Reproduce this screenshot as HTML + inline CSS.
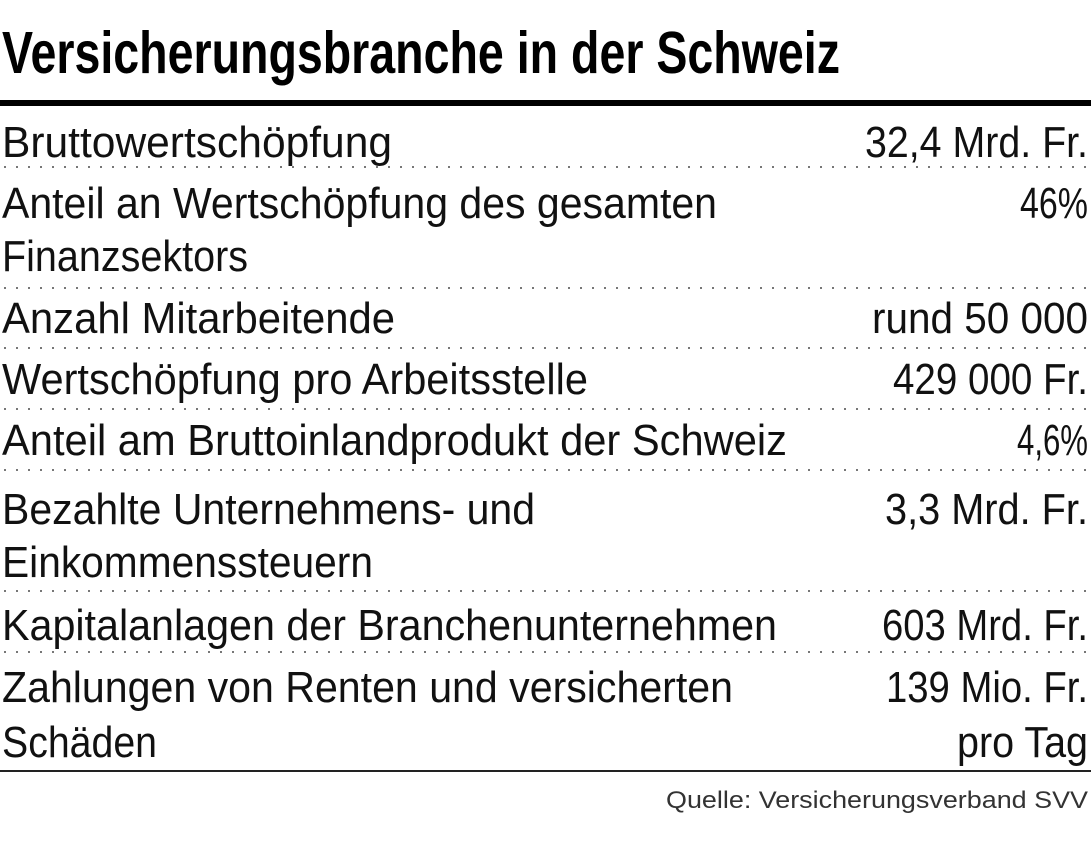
<!DOCTYPE html>
<html><head><meta charset="utf-8"><style>
html,body{margin:0;padding:0;background:#fff;}
svg{display:block;font-family:"Liberation Sans",sans-serif;}
.t{font-size:44px;fill:#111;}
</style></head><body>
<svg width="1091" height="846" viewBox="0 0 1091 846">
<text x="2" y="73" font-size="59" font-weight="bold" fill="#000" textLength="838" lengthAdjust="spacingAndGlyphs">Versicherungsbranche in der Schweiz</text>
<rect x="0" y="100" width="1091" height="6" fill="#000"/>
<g stroke="#777" stroke-width="2" stroke-dasharray="2 10">
<line x1="4" y1="167" x2="1091" y2="167"/>
<line x1="4" y1="288" x2="1091" y2="288"/>
<line x1="4" y1="348" x2="1091" y2="348"/>
<line x1="4" y1="409" x2="1091" y2="409"/>
<line x1="4" y1="470" x2="1091" y2="470"/>
<line x1="4" y1="591" x2="1091" y2="591"/>
<line x1="4" y1="652" x2="1091" y2="652"/>
</g>
<rect x="0" y="770" width="1091" height="2" fill="#222"/>
<g class="t">
<text x="2" y="157" textLength="390" lengthAdjust="spacingAndGlyphs">Bruttowertschöpfung</text>
<text x="2" y="218" textLength="715" lengthAdjust="spacingAndGlyphs">Anteil an Wertschöpfung des gesamten</text>
<text x="2" y="271" textLength="246" lengthAdjust="spacingAndGlyphs">Finanzsektors</text>
<text x="2" y="333" textLength="393" lengthAdjust="spacingAndGlyphs">Anzahl Mitarbeitende</text>
<text x="2" y="394" textLength="586" lengthAdjust="spacingAndGlyphs">Wertschöpfung pro Arbeitsstelle</text>
<text x="2" y="455" textLength="785" lengthAdjust="spacingAndGlyphs">Anteil am Bruttoinlandprodukt der Schweiz</text>
<text x="2" y="524" textLength="533" lengthAdjust="spacingAndGlyphs">Bezahlte Unternehmens- und</text>
<text x="2" y="577" textLength="371" lengthAdjust="spacingAndGlyphs">Einkommenssteuern</text>
<text x="2" y="640" textLength="775" lengthAdjust="spacingAndGlyphs">Kapitalanlagen der Branchenunternehmen</text>
<text x="2" y="702" textLength="731" lengthAdjust="spacingAndGlyphs">Zahlungen von Renten und versicherten</text>
<text x="2" y="757" textLength="155" lengthAdjust="spacingAndGlyphs">Schäden</text>
</g>
<g class="t" text-anchor="end">
<text x="1088" y="157" textLength="223" lengthAdjust="spacingAndGlyphs">32,4 Mrd. Fr.</text>
<text x="1088" y="218" textLength="68" lengthAdjust="spacingAndGlyphs">46%</text>
<text x="1088" y="333" textLength="216" lengthAdjust="spacingAndGlyphs">rund 50 000</text>
<text x="1088" y="394" textLength="195" lengthAdjust="spacingAndGlyphs">429 000 Fr.</text>
<text x="1088" y="455" textLength="71" lengthAdjust="spacingAndGlyphs">4,6%</text>
<text x="1088" y="524" textLength="203" lengthAdjust="spacingAndGlyphs">3,3 Mrd. Fr.</text>
<text x="1088" y="640" textLength="206" lengthAdjust="spacingAndGlyphs">603 Mrd. Fr.</text>
<text x="1088" y="702" textLength="202" lengthAdjust="spacingAndGlyphs">139 Mio. Fr.</text>
<text x="1088" y="757" textLength="131" lengthAdjust="spacingAndGlyphs">pro Tag</text>
</g>
<text x="1088" y="808" text-anchor="end" font-size="24" fill="#333" textLength="422" lengthAdjust="spacingAndGlyphs">Quelle: Versicherungsverband SVV</text>
</svg>
</body></html>
